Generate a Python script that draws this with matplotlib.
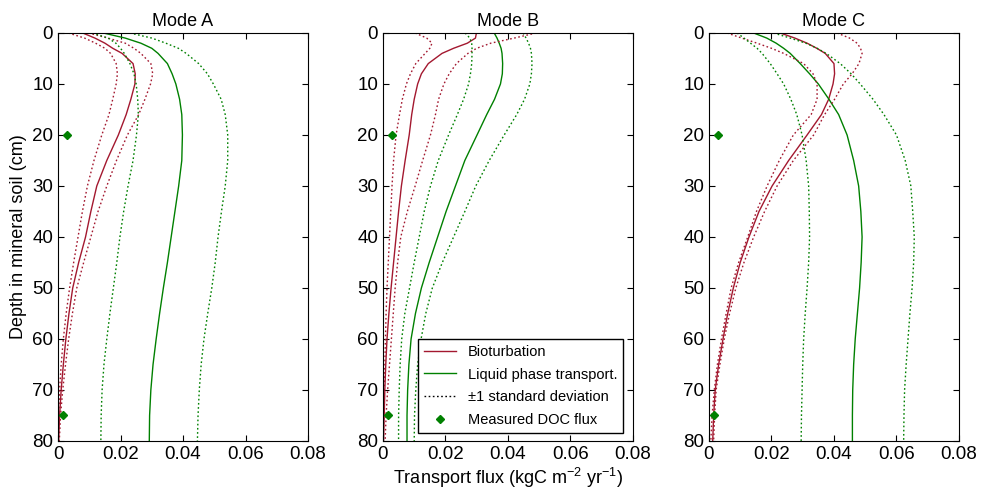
import numpy as np
from matplotlib import pyplot as plt

plt.rcParams['font.family'] = ['Liberation Sans', 'DejaVu Sans']
plt.rcParams['mathtext.default'] = 'regular'

# depth grid (cm) shared by all curves
depth = [0, 1, 2, 3, 4, 6, 8, 10, 13, 16, 20, 25, 30, 35, 40, 45, 50, 55, 60, 65, 70, 75, 80]

# Mode A
bio_A = [0.0079, 0.0118, 0.0150, 0.0175, 0.0205, 0.0240, 0.0247, 0.0246, 0.0233, 0.0218, 0.0193, 0.0156, 0.0124, 0.0105, 0.0088, 0.0066, 0.0047, 0.0035, 0.0025, 0.0017, 0.0010, 0.0005, 0.0002]
bio_A_lo = [0.0033, 0.0085, 0.0120, 0.0150, 0.0168, 0.0186, 0.0190, 0.0186, 0.0175, 0.0163, 0.0140, 0.0115, 0.0094, 0.0078, 0.0064, 0.0050, 0.0037, 0.0026, 0.0017, 0.0010, 0.0005, 0.0002, 0.0001]
bio_A_hi = [0.0097, 0.0160, 0.0215, 0.0243, 0.0265, 0.0297, 0.0303, 0.0296, 0.0278, 0.0258, 0.0222, 0.0187, 0.0156, 0.0128, 0.0105, 0.0082, 0.0060, 0.0046, 0.0034, 0.0024, 0.0015, 0.0008, 0.0004]
liq_A = [0.0145, 0.0215, 0.0265, 0.0300, 0.0320, 0.0350, 0.0365, 0.0377, 0.0389, 0.0396, 0.0398, 0.0396, 0.0386, 0.0374, 0.0362, 0.0350, 0.0337, 0.0325, 0.0314, 0.0304, 0.0297, 0.0293, 0.0292]
liq_A_lo = [0.0110, 0.0160, 0.0185, 0.0200, 0.0212, 0.0230, 0.0243, 0.0250, 0.0255, 0.0257, 0.0251, 0.0240, 0.0224, 0.0210, 0.0198, 0.0188, 0.0177, 0.0166, 0.0156, 0.0147, 0.0141, 0.0138, 0.0137]
liq_A_hi = [0.0230, 0.0300, 0.0345, 0.0385, 0.0410, 0.0450, 0.0478, 0.0497, 0.0522, 0.0535, 0.0543, 0.0543, 0.0535, 0.0523, 0.0512, 0.0503, 0.0492, 0.0479, 0.0467, 0.0458, 0.0452, 0.0448, 0.0446]

# Mode B
bio_B = [0.0299, 0.0296, 0.0270, 0.0226, 0.0189, 0.0145, 0.0123, 0.0111, 0.0100, 0.0092, 0.0084, 0.0071, 0.0059, 0.0050, 0.0042, 0.0034, 0.0026, 0.0019, 0.0013, 0.0009, 0.0006, 0.0004, 0.0002]
bio_B_lo = [0.0103, 0.0140, 0.0157, 0.0150, 0.0135, 0.0105, 0.0088, 0.0075, 0.0062, 0.0053, 0.0042, 0.0034, 0.0029, 0.0025, 0.0021, 0.0017, 0.0013, 0.0010, 0.0008, 0.0006, 0.0004, 0.0002, 0.0001]
bio_B_hi = [0.0490, 0.0420, 0.0345, 0.0300, 0.0272, 0.0235, 0.0212, 0.0195, 0.0178, 0.0168, 0.0152, 0.0127, 0.0103, 0.0078, 0.0057, 0.0047, 0.0039, 0.0033, 0.0027, 0.0021, 0.0015, 0.0010, 0.0007]
liq_B = [0.0356, 0.0365, 0.0372, 0.0378, 0.0381, 0.0383, 0.0382, 0.0376, 0.0357, 0.0332, 0.0301, 0.0262, 0.0232, 0.0202, 0.0175, 0.0148, 0.0123, 0.0104, 0.0090, 0.0083, 0.0079, 0.0077, 0.0077]
liq_B_lo = [0.0263, 0.0278, 0.0284, 0.0285, 0.0285, 0.0284, 0.0280, 0.0274, 0.0258, 0.0238, 0.0210, 0.0177, 0.0152, 0.0132, 0.0116, 0.0100, 0.0085, 0.0070, 0.0060, 0.0055, 0.0052, 0.0050, 0.0050]
liq_B_hi = [0.0448, 0.0458, 0.0466, 0.0472, 0.0475, 0.0477, 0.0475, 0.0470, 0.0453, 0.0428, 0.0388, 0.0340, 0.0297, 0.0262, 0.0226, 0.0190, 0.0158, 0.0137, 0.0122, 0.0111, 0.0105, 0.0101, 0.0100]

# Mode C
bio_C = [0.0228, 0.0275, 0.0314, 0.0345, 0.0372, 0.0400, 0.0402, 0.0397, 0.0383, 0.0360, 0.0314, 0.0255, 0.0202, 0.0160, 0.0128, 0.0100, 0.0078, 0.0060, 0.0045, 0.0031, 0.0020, 0.0015, 0.0012]
bio_C_lo = [0.0058, 0.0105, 0.0154, 0.0200, 0.0239, 0.0303, 0.0333, 0.0346, 0.0346, 0.0327, 0.0270, 0.0225, 0.0186, 0.0152, 0.0124, 0.0095, 0.0071, 0.0055, 0.0040, 0.0027, 0.0017, 0.0010, 0.0006]
bio_C_hi = [0.0410, 0.0450, 0.0474, 0.0485, 0.0490, 0.0480, 0.0458, 0.0430, 0.0402, 0.0370, 0.0335, 0.0270, 0.0218, 0.0178, 0.0143, 0.0112, 0.0086, 0.0066, 0.0049, 0.0035, 0.0023, 0.0018, 0.0015]
liq_C = [0.0143, 0.0185, 0.0215, 0.0239, 0.0260, 0.0292, 0.0322, 0.0350, 0.0384, 0.0415, 0.0442, 0.0463, 0.0479, 0.0486, 0.0490, 0.0487, 0.0482, 0.0475, 0.0468, 0.0463, 0.0460, 0.0459, 0.0459]
liq_C_lo = [0.0090, 0.0112, 0.0133, 0.0154, 0.0170, 0.0196, 0.0218, 0.0239, 0.0262, 0.0281, 0.0298, 0.0311, 0.0319, 0.0321, 0.0322, 0.0319, 0.0314, 0.0308, 0.0303, 0.0300, 0.0298, 0.0296, 0.0295]
liq_C_hi = [0.0207, 0.0260, 0.0310, 0.0346, 0.0375, 0.0420, 0.0455, 0.0484, 0.0525, 0.0560, 0.0600, 0.0628, 0.0646, 0.0652, 0.0657, 0.0655, 0.0650, 0.0643, 0.0637, 0.0631, 0.0626, 0.0624, 0.0623]

# measured DOC flux
doc_depth = [20, 75]
doc_flux = [0.0030, 0.0016]

titles = ['Mode A', 'Mode B', 'Mode C']
panels = [
    (bio_A, bio_A_lo, bio_A_hi, liq_A, liq_A_lo, liq_A_hi),
    (bio_B, bio_B_lo, bio_B_hi, liq_B, liq_B_lo, liq_B_hi),
    (bio_C, bio_C_lo, bio_C_hi, liq_C, liq_C_lo, liq_C_hi),
]
xticks = [0, 0.02, 0.04, 0.06, 0.08]
xticklabels = ['0', '0.02', '0.04', '0.06', '0.08']
yticks = [0, 10, 20, 30, 40, 50, 60, 70, 80]

red = '#a3182f'
green = '#008000'
dot = (0, (1.2, 1.8))

fig = plt.figure(figsize=(9.87, 4.96), dpi=100)
lefts = [0.0588, 0.388, 0.7183]
for i in range(3):
    ax = fig.add_axes([lefts[i], 0.1109, 0.2533, 0.8226])
    bio, bio_lo, bio_hi, liq, liq_lo, liq_hi = panels[i]
    ax.plot(bio, depth, color=red, lw=1.0, label='Bioturbation')
    ax.plot(liq, depth, color=green, lw=1.0, label='Liquid phase transport.')
    ax.plot(bio_lo, depth, color=red, lw=1.0, ls=dot)
    ax.plot(bio_hi, depth, color=red, lw=1.0, ls=dot)
    ax.plot(liq_lo, depth, color=green, lw=1.0, ls=dot)
    ax.plot(liq_hi, depth, color=green, lw=1.0, ls=dot)
    ax.plot([], [], color='black', lw=1.0, ls=dot, label='\u00b11 standard deviation')
    ax.plot(doc_flux, doc_depth, ls='none', marker='D', color=green, ms=4,
            label='Measured DOC flux')
    ax.set_xlim(0, 0.08)
    ax.set_ylim(80, 0)
    ax.set_xticks(xticks)
    ax.set_xticklabels(xticklabels)
    ax.set_yticks(yticks)
    ax.tick_params(direction='in', top=True, right=True, length=4, labelsize=13.5)
    ax.set_title(titles[i], fontsize=13, pad=5)
    if i == 0:
        ax.set_ylabel('Depth in mineral soil (cm)', fontsize=13)
    if i == 1:
        ax.set_xlabel('Transport flux (kgC m$^{-2}$ yr$^{-1}$)', fontsize=13, labelpad=2)
        leg = ax.legend(loc='lower right', bbox_to_anchor=(0.96, 0.02), borderaxespad=0,
                        fontsize=10.5, fancybox=False, framealpha=1, edgecolor='black',
                        handlelength=2.2, labelspacing=0.6)
        leg.get_frame().set_linewidth(1.0)

plt.savefig('out.png', dpi=100)
